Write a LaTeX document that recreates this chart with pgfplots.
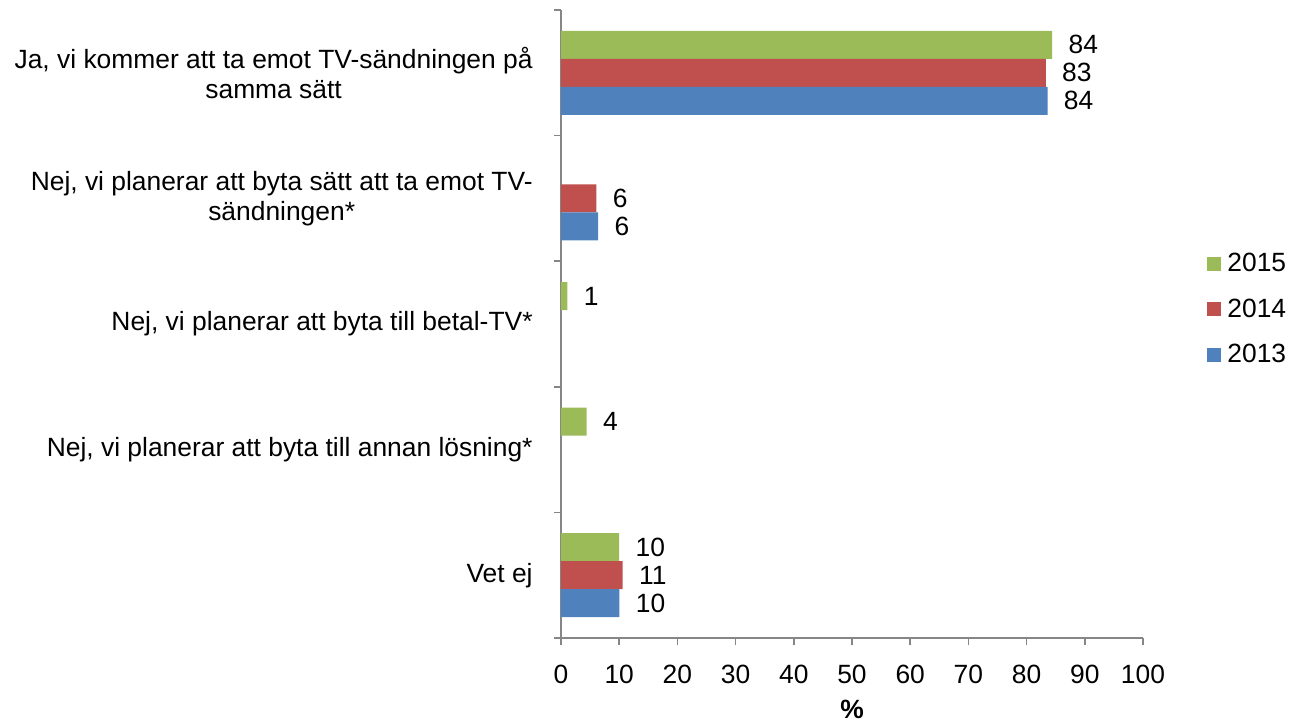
\documentclass[border=0pt]{standalone}
\usepackage{fontspec}
\setmainfont{Liberation Sans}
\usepackage{pgfplots}
\pgfplotsset{compat=1.18}
\definecolor{cgreen}{HTML}{9BBB59}
\definecolor{cred}{HTML}{C0504D}
\definecolor{cblue}{HTML}{4F81BD}
\definecolor{axgray}{HTML}{868686}
\begin{document}
\fontsize{13.2}{15}\selectfont
\begin{tikzpicture}
\begin{axis}[
  scale only axis,
  width=291pt, height=314pt,
  xbar, bar width=14pt,
  xmin=0, xmax=100,
  ymin=-0.5, ymax=4.5,
  y dir=reverse,
  axis lines*=left,
  axis line style={axgray, line width=0.8pt},
  xtick={0,10,...,100},
  tick align=outside,
  major tick length=3.5pt,
  tick style={axgray, line width=0.8pt},
  ytick={-0.5,0.5,1.5,2.5,3.5,4.5},
  yticklabels={},
  extra y ticks={0,1,2,3,4},
  extra y tick labels={{Ja, vi kommer att ta emot TV-sändningen på\\samma sätt},
    {Nej, vi planerar att byta sätt att ta emot TV-\\sändningen*},
    {Nej, vi planerar att byta till betal-TV*},
    {Nej, vi planerar att byta till annan lösning*},
    {Vet ej}},
  extra y tick style={major tick length=0pt, yticklabel style={align=center, inner sep=0pt, xshift=-14pt}},
  xticklabel style={inner sep=0pt, yshift=-10pt},
  /pgf/number format/assume math mode=true,
  xlabel={\textbf{\%}},
  xlabel style={inner sep=0pt, yshift=-8pt},
  nodes near coords={\pgfmathprintnumber[fixed,precision=0,assume math mode=true]{\pgfplotspointmeta}},
  nodes near coords align={horizontal},
  every node near coord/.append style={anchor=west, inner sep=0pt, xshift=8pt, text=black},
  point meta=explicit,
  clip=false,
  legend style={draw=none, at={(1.11,0.522)}, anchor=west, inner sep=0pt,
    nodes={text height=10pt, text depth=3pt, inner sep=0pt}, row sep=9.75pt},
  legend cell align=left,
  legend image code/.code={\fill[#1] (0pt,-3pt) rectangle (7pt,4pt);},
  /tikz/every odd column/.append style={column sep=3pt},
]
\addplot[fill=cgreen, draw=none, bar shift=14pt] coordinates {(84.4,0) [84.4] (1.1,2) [1.1] (4.4,3) [4.4] (10.0,4) [10.0]};
\addplot[fill=cred, draw=none, bar shift=0pt] coordinates {(83.3,0) [83.3] (6.1,1) [6.1] (10.6,4) [10.6]};
\addplot[fill=cblue, draw=none, bar shift=-14pt] coordinates {(83.6,0) [83.6] (6.4,1) [6.4] (10.05,4) [10.05]};
\legend{2015,2014,2013}
\end{axis}
\pgfresetboundingbox
\path[use as bounding box] (current axis.south west) ++(-280.5pt,-42.5pt) rectangle ++(644.5pt,361.5pt);
\end{tikzpicture}
\end{document}
